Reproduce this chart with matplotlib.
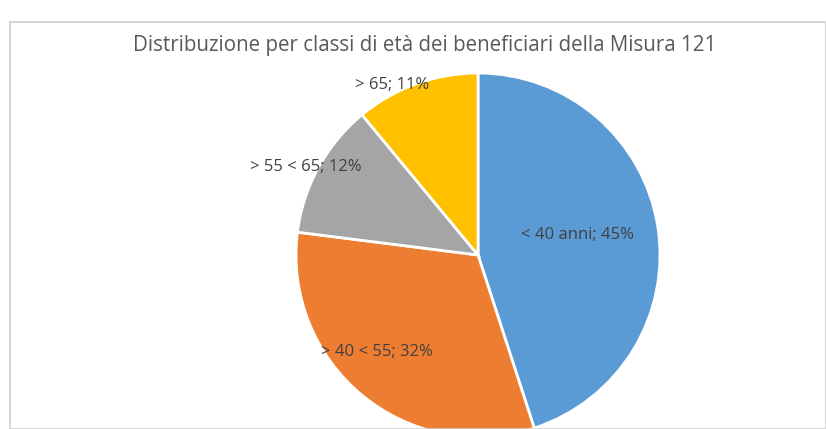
import matplotlib.pyplot as plt
import numpy as np
from matplotlib.patches import Rectangle

categories = ['< 40 anni', '> 40 < 55', '> 55 < 65', '> 65']
shares = [45, 32, 12, 11]
colors = ['#5B9BD5', '#ED7D31', '#A5A5A5', '#FFC000']
# label distance from centre (fraction of radius) and small angle nudge, per slice
label_r = [0.555, 0.77, 1.06, 1.047]
label_nudge = [2.4, -6.6, 1.7, 7]

W, H = 826, 429
fig = plt.figure(figsize=(W / 100, H / 100), dpi=100)
fig.patch.set_facecolor('white')

# chart area frame
fig.add_artist(Rectangle((10 / W, 0), (W - 10) / W, (H - 22) / H,
                         transform=fig.transFigure, fill=False,
                         edgecolor='#D0D0D0', linewidth=1.2))

cx, cy, r = 478, 255, 182
ax = fig.add_axes([(cx - r) / W, (H - cy - r) / H, 2 * r / W, 2 * r / H])
wedges, _ = ax.pie(shares, colors=colors, startangle=90, counterclock=False,
                   wedgeprops=dict(edgecolor='white', linewidth=2))
ax.set_xlim(-1, 1)
ax.set_ylim(-1, 1)

for w, cat, s, lr, nd in zip(wedges, categories, shares, label_r, label_nudge):
    ang = np.deg2rad((w.theta1 + w.theta2) / 2 + nd)
    ax.text(lr * np.cos(ang), lr * np.sin(ang), f'{cat}; {s}%',
            ha='center', va='center', fontsize=12, color='#404040',
            family=['Open Sans', 'DejaVu Sans'], clip_on=False)

fig.text(425 / W, 1 - 45 / H,
         'Distribuzione per classi di età dei beneficiari della Misura 121',
         ha='center', va='center', fontsize=14.8, color='#595959',
         family=['Open Sans', 'DejaVu Sans'])

fig.savefig('out.png', dpi=100)
